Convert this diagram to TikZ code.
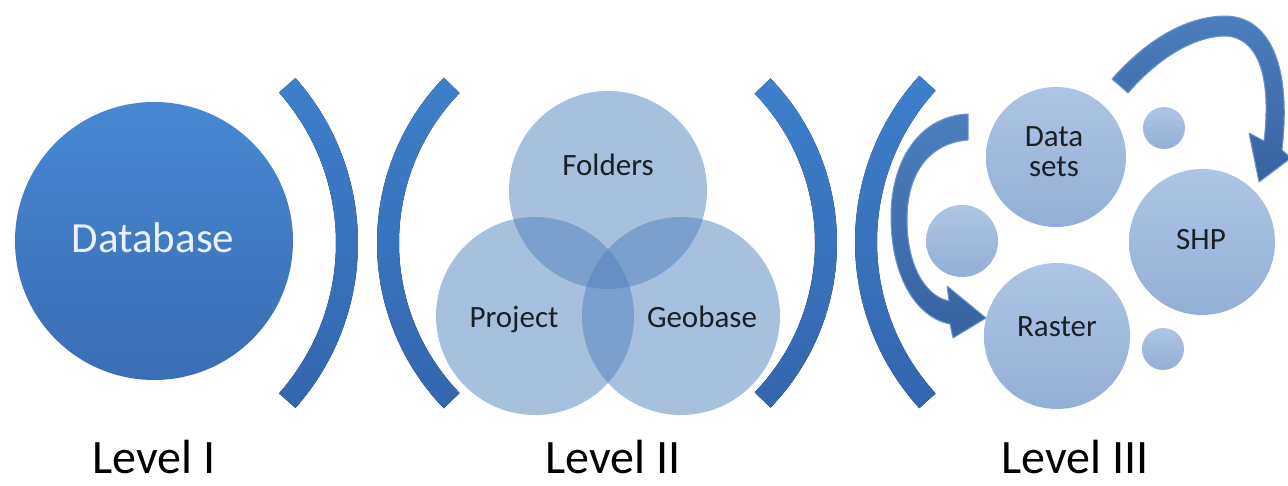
\documentclass[tikz,border=0pt]{standalone}
\usepackage{fontspec}
\setmainfont{Carlito}
\definecolor{brkTop}{HTML}{3E7FCB}
\definecolor{brkBot}{HTML}{3366AE}
\definecolor{dbTop}{HTML}{4888D2}
\definecolor{dbBot}{HTML}{3A6DB4}
\definecolor{vennBlue}{HTML}{4F81BD}
\definecolor{bubTop}{HTML}{AEC5E4}
\definecolor{bubBot}{HTML}{93AFD7}
\definecolor{arrTop}{HTML}{4C7EBE}
\definecolor{arrBot}{HTML}{3862A0}
\definecolor{arrEdge}{HTML}{6C96CC}
\definecolor{ink}{HTML}{1C1F24}
\definecolor{dbInk}{HTML}{EAF1FA}
\begin{document}
\begin{tikzpicture}[x=1pt,y=-1pt,
  brk/.style={top color=brkTop,bottom color=brkBot,draw=none},
  dbcircle/.style={circle,inner sep=0pt,minimum size=278pt,top color=dbTop,bottom color=dbBot,draw=none},
  venn/.style={circle,inner sep=0pt,minimum size=198pt,fill=vennBlue,fill opacity=0.5,draw=none},
  bubble/.style={circle,inner sep=0pt,top color=bubTop,bottom color=bubBot,draw=none},
  curvedarrow/.style={top color=arrTop,bottom color=arrBot,draw=arrEdge,line width=1pt,line join=round},
  lbl/.style={anchor=base,inner sep=0pt,text=ink,font=\fontsize{31}{31}\selectfont},
  levellbl/.style={anchor=base,inner sep=0pt,text=black,font=\fontsize{48}{48}\selectfont}
]
\useasboundingbox (0,0) rectangle (1288,486);

% brackets between the levels (annular sectors)
\fill[brk] (109,243) ++(-41.5:249) arc[start angle=-41.5,end angle=41.5,radius=249]
  -- ++(41.5:-22) arc[start angle=41.5,end angle=-41.5,radius=227] -- cycle;
\fill[brk] (615,243) ++(136:238) arc[start angle=136,end angle=224,radius=238]
  -- ++(224:-22) arc[start angle=224,end angle=136,radius=216] -- cycle;
\fill[brk] (600,243) ++(-44:237) arc[start angle=-44,end angle=44,radius=237]
  -- ++(44:-22) arc[start angle=44,end angle=-44,radius=215] -- cycle;
\fill[brk] (1102,242) ++(137.7:247) arc[start angle=137.7,end angle=222.3,radius=247]
  -- ++(222.3:-22) arc[start angle=222.3,end angle=137.7,radius=225] -- cycle;

% Level I
\node[dbcircle] (db) at (154,241) {};
\node[anchor=base,inner sep=0pt,text=dbInk,font=\fontsize{43}{43}\selectfont] (dbtext) at (153,253) {Database};

% Level II: overlapping sets
\node[venn] (folders) at (608,190) {};
\node[venn] (project) at (535,316) {};
\node[venn] (geobase) at (681,316) {};
\node[lbl] (folderstext) at (608,176) {Folders};
\node[lbl] (projecttext) at (514,328) {Project};
\node[lbl] (geobasetext) at (702,328) {Geobase};

% Level III: data bubbles
\node[bubble,minimum size=140pt] (datasets) at (1056,157) {};
\node[bubble,minimum size=146pt] (shp) at (1202,242) {};
\node[bubble,minimum size=146pt] (raster) at (1057,336) {};
\node[bubble,minimum size=72pt] (dotleft) at (962,241) {};
\node[bubble,minimum size=42pt] (dottop) at (1164,128) {};
\node[bubble,minimum size=42pt] (dotbottom) at (1163,349) {};
\node[lbl] (datatext) at (1054,147) {Data};
\node[lbl] (setstext) at (1054,177) {sets};
\node[lbl] (shptext) at (1201,250) {SHP};
\node[lbl] (rastertext) at (1057,337) {Raster};

% curved arrow: Data sets round to Raster
\path[curvedarrow]
  (968,114) .. controls (920,116) and (890,160) .. (891,220)
  .. controls (892,280) and (918,318) .. (950,324)
  -- (953,338) -- (986,318) -- (947,286) -- (949,301)
  .. controls (925,296) and (907,265) .. (907,220)
  .. controls (907,172) and (930,143) .. (968,140) -- cycle;

% curved arrow: over the top down to SHP
\path[curvedarrow]
  (1112,79) .. controls (1150,36) and (1190,16) .. (1226,16)
  .. controls (1268,17) and (1292,62) .. (1282,150)
  -- (1291,158) -- (1259,182) -- (1249,133) -- (1264,141)
  .. controls (1272,72) and (1256,38) .. (1226,36)
  .. controls (1196,36) and (1160,56) .. (1128,93) -- cycle;

% level captions
\node[levellbl] (lvl1) at (154,473) {Level I};
\node[levellbl] (lvl2) at (613,473) {Level II};
\node[levellbl] (lvl3) at (1075,473) {Level III};
\end{tikzpicture}
\end{document}
